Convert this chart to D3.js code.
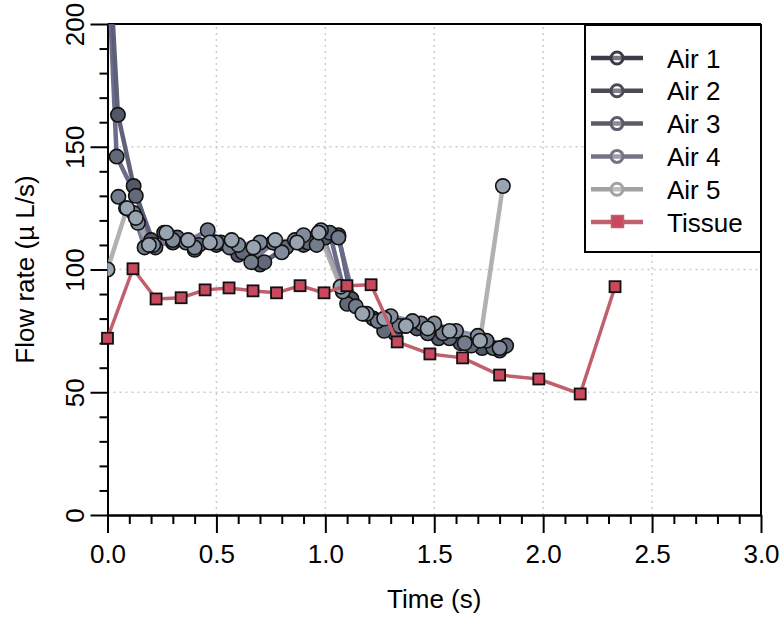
<!DOCTYPE html>
<html><head><meta charset="utf-8">
<script src="https://cdn.jsdelivr.net/npm/d3@7"></script>
<style>body{margin:0;background:#fff}svg{display:block}text{font-family:"Liberation Sans",Arial,sans-serif}</style>
</head><body>
<svg id="c" width="781" height="619"></svg>
<script>
const seriesNames = ["Air 1","Air 2","Air 3","Air 4","Air 5","Tissue"];
const air1T = [0, 0.048, 0.12, 0.2, 0.3, 0.4, 0.5, 0.6, 0.7, 0.8, 0.9, 1.0, 1.06, 1.12, 1.22, 1.32, 1.42, 1.52, 1.62, 1.72, 1.8];
const air1V = [240, 163, 134, 112, 111, 108, 110, 106, 102, 108, 110, 113, 114, 88, 80, 74, 76, 72, 70, 68, 67];
const air2T = [0, 0.042, 0.13, 0.22, 0.32, 0.42, 0.52, 0.62, 0.72, 0.82, 0.92, 1.02, 1.1, 1.18, 1.27, 1.37, 1.47, 1.57, 1.67, 1.77, 1.83];
const air2V = [230, 146, 130, 109, 113, 110, 111, 107, 103, 109, 111, 115, 86, 82, 75, 77, 74, 72, 69, 68, 69];
const air3T = [0.05, 0.12, 0.17, 0.26, 0.36, 0.46, 0.56, 0.66, 0.76, 0.86, 0.96, 1.06, 1.14, 1.24, 1.34, 1.44, 1.54, 1.64, 1.74];
const air3V = [129.6, 123, 109, 115, 111, 116, 109, 103, 111, 112, 110, 113, 85, 79, 77, 78, 74, 70, 71];
const air4T = [0.085, 0.14, 0.21, 0.3, 0.4, 0.5, 0.6, 0.7, 0.8, 0.9, 0.98, 1.08, 1.19, 1.3, 1.4, 1.5, 1.6, 1.7, 1.8];
const air4V = [125, 119, 110, 112, 109, 111, 110, 111, 107, 114, 116, 91, 82, 81, 79, 78, 75, 73, 68];
const air5T = [0, 0.09, 0.13, 0.19, 0.27, 0.37, 0.47, 0.57, 0.67, 0.77, 0.87, 0.97, 1.07, 1.17, 1.27, 1.37, 1.47, 1.57, 1.71, 1.815];
const air5V = [100, 125, 121, 110, 115, 112, 111, 112, 109, 112, 111, 115, 93, 82, 80, 77, 76, 75, 71, 134];
const tissueT = [0, 0.117, 0.223, 0.338, 0.448, 0.558, 0.668, 0.776, 0.884, 0.994, 1.099, 1.21, 1.33, 1.48, 1.63, 1.80, 1.98, 2.17, 2.33];
const tissueV = [72, 100.3, 88, 88.5, 91.7, 92.5, 91.3, 90.5, 93.4, 90.5, 93.4, 93.8, 70.5, 65.6, 64, 57, 55.4, 49.3, 93];
const xTicks = [0, 0.5, 1.0, 1.5, 2.0, 2.5, 3.0];
const yTicks = [0, 50, 100, 150, 200];
const xLabel = "Time (s)";
const yLabel = "Flow rate (\u00b5 L/s)";

const lineColors = ["#50506a","#5c5c7c","#6a6a88","#80809a","#a8a8aa"];
const legendColors = ["#3c3c46","#4a4a58","#5c5c6c","#747484","#a2a2a6"];
const fillColors = ["#525866","#626a7a","#727c8c","#808c9c","#98a4b0"];
const tissueLine = "#c0606e", tissueFill = "#c8485e";
const FS = 26;

const svg = d3.select("#c");
const x = d3.scaleLinear().domain([0,3]).range([107.5,761]);
const y = d3.scaleLinear().domain([0,200]).range([515,24]);

// grid
const grid = svg.append("g").attr("stroke","#cccccc").attr("stroke-width",1.5).attr("stroke-dasharray","2,4");
xTicks.filter(t=>t>0&&t<3).forEach(t=>grid.append("line").attr("x1",x(t)).attr("x2",x(t)).attr("y1",y(0)).attr("y2",y(200)));
yTicks.filter(t=>t>0&&t<200).forEach(t=>grid.append("line").attr("x1",x(0)).attr("x2",x(3)).attr("y1",y(t)).attr("y2",y(t)));

// frame
svg.append("line").attr("x1",x(0)).attr("x2",x(3)).attr("y1",y(200)).attr("y2",y(200)).attr("stroke","#000").attr("stroke-width",2);
svg.append("line").attr("x1",x(3)).attr("x2",x(3)).attr("y1",y(200)).attr("y2",y(0)).attr("stroke","#000").attr("stroke-width",2);

// axes
function styleAxis(g){g.select(".domain").attr("stroke-width",2);g.selectAll(".tick line").attr("stroke-width",2);g.selectAll("text").attr("font-size",FS).attr("font-family","Liberation Sans, Arial, sans-serif").attr("fill","#000");}
const xMinor = d3.range(0,3.0001,0.1).map(v=>+v.toFixed(2)).filter(v=>!xTicks.some(t=>Math.abs(t-v)<1e-6));
const yMinor = d3.range(0,200.1,10).filter(v=>v%50!==0);
svg.append("g").attr("transform",`translate(0,${y(0)})`).call(d3.axisBottom(x).tickValues(xMinor).tickSize(9).tickSizeOuter(0).tickFormat("")).call(styleAxis);
svg.append("g").attr("transform",`translate(0,${y(0)})`).call(d3.axisBottom(x).tickValues(xTicks).tickSize(18).tickSizeOuter(0).tickPadding(12).tickFormat(d3.format(".1f"))).call(styleAxis);
svg.append("g").attr("transform",`translate(${x(0)},0)`).call(d3.axisLeft(y).tickValues(yMinor).tickSize(8).tickSizeOuter(0).tickFormat("")).call(styleAxis);
const ya = svg.append("g").attr("transform",`translate(${x(0)},0)`).call(d3.axisLeft(y).tickValues(yTicks).tickSize(17).tickSizeOuter(0).tickFormat(d3.format("d"))).call(styleAxis);
ya.selectAll(".tick text").attr("x",null).attr("dy",null).attr("text-anchor","middle").attr("transform","translate(-24,0) rotate(-90)");

svg.append("text").attr("x",(x(0)+x(3))/2).attr("y",608).attr("text-anchor","middle").attr("font-size",FS).text(xLabel);
svg.append("text").attr("transform",`translate(34,${(y(0)+y(200))/2}) rotate(-90)`).attr("text-anchor","middle").attr("font-size",FS).text(yLabel);

// data
const airs = [[air1T,air1V],[air2T,air2V],[air3T,air3V],[air4T,air4V],[air5T,air5V]];
svg.append("clipPath").attr("id","pc").append("rect").attr("x",x(0)).attr("y",y(200)).attr("width",x(3)-x(0)).attr("height",y(0)-y(200));
const plot = svg.append("g").attr("clip-path","url(#pc)");
const line = d3.line().x(d=>x(d[0])).y(d=>y(d[1]));
airs.forEach((s,i)=>{
  const pts = s[0].map((t,j)=>[t,s[1][j]]);
  plot.append("path").datum(pts).attr("d",line).attr("fill","none").attr("stroke",lineColors[i]).attr("stroke-width",4.5).attr("stroke-linejoin","round").attr("opacity",0.9);
});
airs.forEach((s,i)=>{
  const pts = s[0].map((t,j)=>[t,s[1][j]]);
  plot.selectAll(null).data(pts).enter().append("circle").attr("cx",d=>x(d[0])).attr("cy",d=>y(d[1])).attr("r",7.2)
    .attr("fill",fillColors[i]).attr("stroke","#111").attr("stroke-width",1.6);
});
const tpts = tissueT.map((t,j)=>[t,tissueV[j]]);
plot.append("path").datum(tpts).attr("d",line).attr("fill","none").attr("stroke",tissueLine).attr("stroke-width",3.5).attr("stroke-linejoin","round");
svg.selectAll(null).data(tpts).enter().append("rect").attr("x",d=>x(d[0])-5.5).attr("y",d=>y(d[1])-5.5).attr("width",11).attr("height",11)
  .attr("fill",tissueFill).attr("stroke","#111").attr("stroke-width",1.8);

// legend
const lg = svg.append("g");
lg.append("rect").attr("x",585).attr("y",25).attr("width",176).attr("height",227).attr("fill","#fff").attr("stroke","#000").attr("stroke-width",2);
seriesNames.forEach((n,i)=>{
  const yy = 58 + i*32.8;
  const col = i<5 ? legendColors[i] : tissueLine;
  lg.append("line").attr("x1",591).attr("x2",643).attr("y1",yy).attr("y2",yy).attr("stroke",col).attr("stroke-width",4.5);
  if(i<5){
    lg.append("circle").attr("cx",617).attr("cy",yy).attr("r",6).attr("fill","#fff").attr("fill-opacity",0.3).attr("stroke",col).attr("stroke-width",3);
  } else {
    lg.append("rect").attr("x",611.5).attr("y",yy-6.5).attr("width",12).attr("height",12).attr("fill",tissueFill).attr("stroke",col).attr("stroke-width",1.5);
  }
  lg.append("text").attr("x",667).attr("y",yy+9.5).attr("font-size",FS).text(n);
});
</script>
</body></html>
